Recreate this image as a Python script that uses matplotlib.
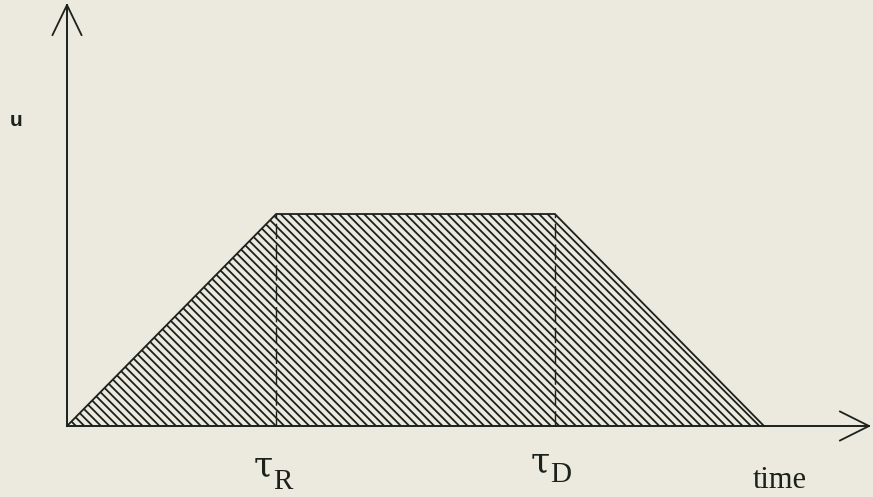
import matplotlib
matplotlib.use("Agg")
import matplotlib.pyplot as plt
from matplotlib.transforms import offset_copy

# Trapezoidal pulse: rise until tau_R, plateau until tau_D, then decay
t_points = [0, 3, 7, 10]
u_points = [0, 1, 1, 0]
tau_labels = [("R", 3), ("D", 7)]
x_label = "time"
y_label = "u"

INK = "#1b211d"
PAPER = "#ece9de"

plt.rcParams["hatch.linewidth"] = 1.3

fig = plt.figure(figsize=(8.73, 4.97), dpi=100, facecolor=PAPER)
ax = fig.add_axes([0, 0, 1, 1])
ax.set_facecolor(PAPER)

# scales: 69.7 px per time unit, 212 px per unit of u; origin at (67, 426) px
px_x, px_y = 69.7, 212.0
x0, y0 = 67.0, 426.0
W, H = 873.0, 497.0
ax.set_xlim(-x0 / px_x, (W - x0) / px_x)
ax.set_ylim(-(H - y0) / px_y, y0 / px_y)
ax.axis("off")

# hatched area under the pulse
ax.fill_between(t_points, u_points, 0, facecolor="none", edgecolor=INK,
                hatch="\\\\\\\\", linewidth=0)
ax.plot(t_points, u_points, color=INK, lw=1.3, solid_joinstyle="miter")

# dashed markers at tau_R and tau_D
for _, tv in tau_labels:
    ax.plot([tv, tv], [0, u_points[1]], color=INK, lw=1.0,
            linestyle=(0, (11, 4)))

# axes with open arrowheads
x_tip = (869 - x0) / px_x
y_tip = (y0 - 5) / px_y
ax.plot([0, x_tip], [0, 0], color=INK, lw=1.4)
ax.plot([0, 0], [0, y_tip], color=INK, lw=1.4)
hl, hw = 29.0, 14.5
ax.plot([x_tip - hl / px_x, x_tip, x_tip - hl / px_x],
        [hw / px_y, 0, -hw / px_y], color=INK, lw=1.3)
ax.plot([-hw / px_x, 0, hw / px_x],
        [y_tip - 30 / px_y, y_tip, y_tip - 30 / px_y], color=INK, lw=1.3)

# tau labels with subscripts
offsets = {"R": (-3, -50, -63), "D": (-5, -46, -56)}
for sub, tv in tau_labels:
    dx, dy_tau, dy_sub = offsets[sub]
    tr_tau = offset_copy(ax.transData, fig=fig, x=dx, y=dy_tau, units="dots")
    tr_sub = offset_copy(ax.transData, fig=fig, x=dx, y=dy_sub, units="dots")
    ax.text(tv, 0, "\u03c4", transform=tr_tau, ha="right", va="baseline",
            fontsize=25, family="DejaVu Serif", color=INK)
    ax.text(tv, 0, sub, transform=tr_sub, ha="left", va="baseline",
            fontsize=21, family="Liberation Serif", color=INK)

tr_time = offset_copy(ax.transData, fig=fig, x=753 - x0, y=-(488 - y0),
                      units="dots")
ax.text(0, 0, x_label, transform=tr_time, ha="left", va="baseline",
        fontsize=22, family="Liberation Serif", color=INK)

ax.text(16 / W, 1 - 120 / H, y_label, transform=ax.transAxes, ha="center",
        va="center", fontsize=15, fontweight="bold",
        family="Liberation Sans", color=INK)

fig.savefig("out.png", dpi=100, facecolor=PAPER)
